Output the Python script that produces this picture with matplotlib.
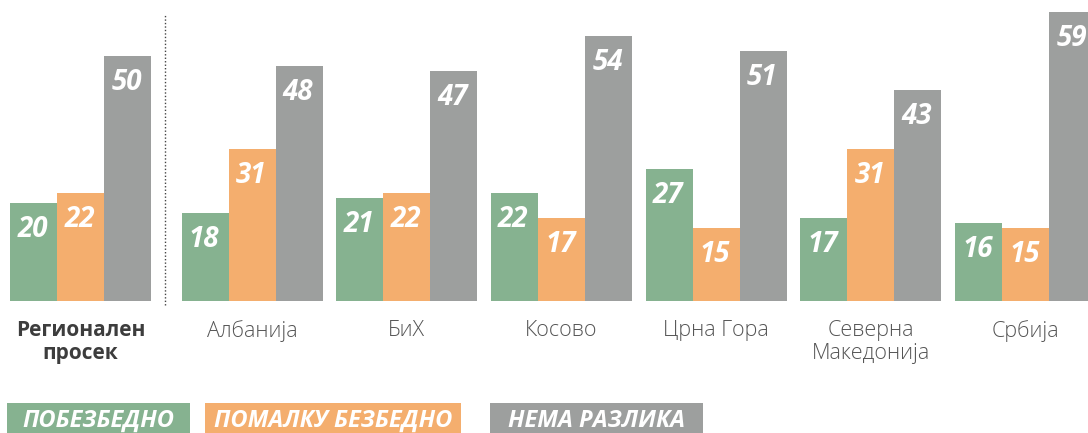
import numpy as np
import matplotlib
matplotlib.use("Agg")
import matplotlib.pyplot as plt
from matplotlib.patches import Rectangle

categories = ["Регионален\nпросек", "Албанија", "БиХ", "Косово", "Црна Гора",
              "Северна\nМакедонија", "Србија"]
series_names = ["ПОБЕЗБЕДНО", "ПОМАЛКУ БЕЗБЕДНО", "НЕМА РАЗЛИКА"]
safer = [20, 18, 21, 22, 27, 17, 16]
less_safe = [22, 31, 22, 17, 15, 31, 15]
no_diff = [50, 48, 47, 54, 51, 43, 59]
colors = ["#86b290", "#f4ae6e", "#9d9f9e"]

W, H = 1088, 433
fig = plt.figure(figsize=(W / 100, H / 100), dpi=100)
base_px = 301
ax = fig.add_axes([0, (H - base_px) / H, 1, base_px / H])
px_per_unit = 4.9
ax.set_xlim(0, W)
ax.set_ylim(0, base_px / px_per_unit)
ax.axis("off")

bw = 47
centers = np.concatenate([[80.5], 252 + 154.7 * np.arange(6)])
series = [safer, less_safe, no_diff]
for k, (vals, col) in enumerate(zip(series, colors)):
    xs = centers + (k - 1) * bw
    ax.bar(xs, vals, width=bw, color=col, linewidth=0)
    for x, v in zip(xs, vals):
        ax.text(x - 1, v - 26.5 / px_per_unit, str(v), ha="center", va="center",
                color="white", fontsize=20, fontweight="bold", style="italic",
                family="Open Sans")

# dotted separator
ax.plot([165, 165], [-4 / px_per_unit, (base_px - 15) / px_per_unit],
        linestyle=(0, (1, 1.5)), color="#444444", linewidth=1, clip_on=False)

# category labels
for i, (c, lab) in enumerate(zip(centers, categories)):
    fig.text(c / W, 1 - 320 / H, lab, ha="center", va="top",
             fontsize=15.5 if i else 15, family="Open Sans",
             fontweight="bold" if i == 0 else "light",
             color="#3d3d3d" if i == 0 else "#555555", linespacing=1.15)

# legend boxes
legend_boxes = [(7, 190), (205, 461), (490, 703)]
for (x0, x1), name, col in zip(legend_boxes, series_names, colors):
    fig.patches.append(Rectangle((x0 / W, 1 - 433 / H), (x1 - x0) / W, 30 / H,
                                 transform=fig.transFigure, color=col, linewidth=0))
    fig.text((x0 + x1) / 2 / W, 1 - 427 / H, name, ha="center", va="baseline",
             color="white", fontsize=17, fontweight="bold", style="italic",
             family="Open Sans")

fig.savefig("out.png", dpi=100)
